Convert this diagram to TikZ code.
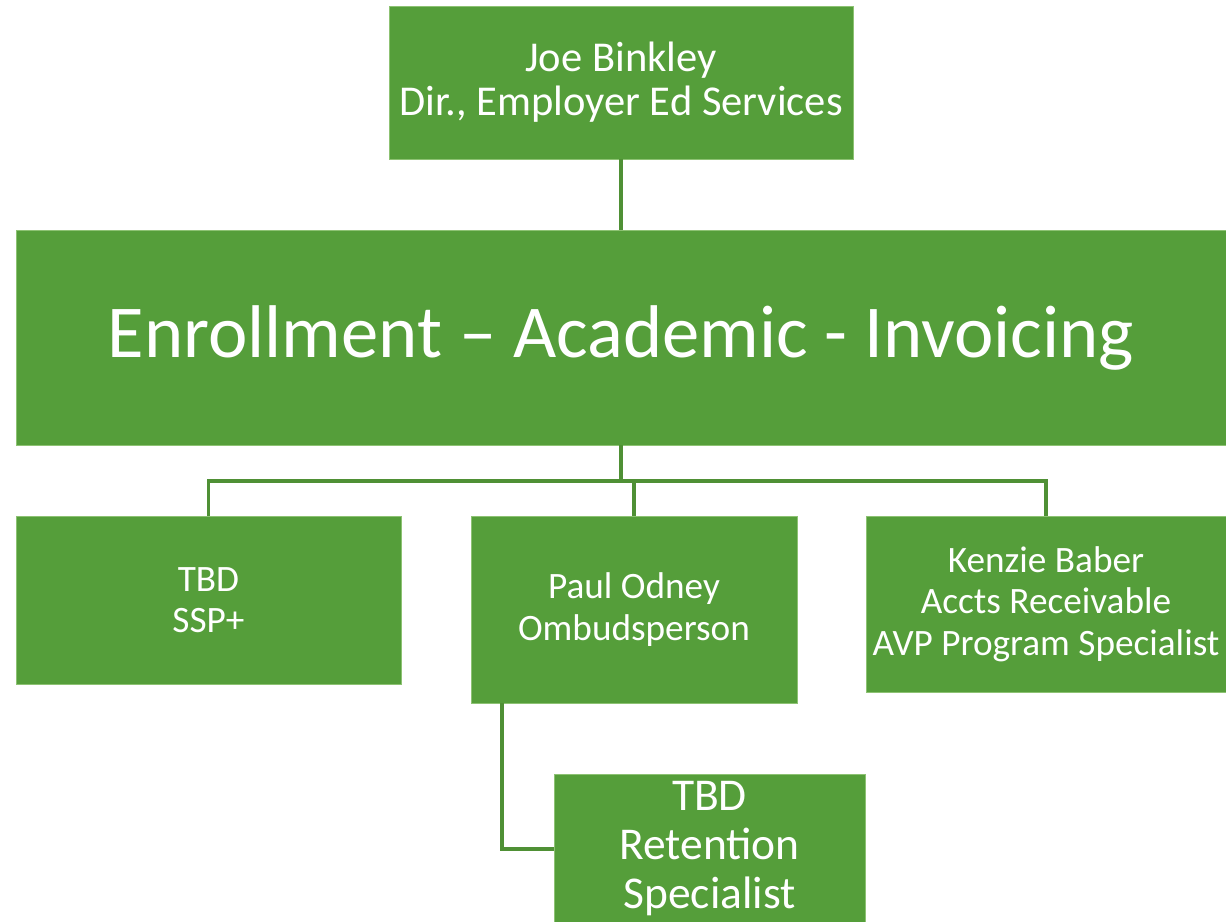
\documentclass[tikz,border=0pt]{standalone}
\usepackage{fontspec}
\setmainfont{Carlito}
\usepackage{tikz}
\usetikzlibrary{positioning, calc}
\definecolor{orggreen}{HTML}{559E3A}
\definecolor{linegreen}{HTML}{4F9035}
\definecolor{edgegreen}{HTML}{8DC273}
\tikzset{
    greenbox/.style={rectangle, draw=edgegreen, line width=0.5pt, fill=orggreen, text=white, align=center, inner sep=0pt},
    link/.style={draw=linegreen, line width=2pt}
}
\begin{document}
\begin{tikzpicture}[x=0.02cm, y=-0.02cm]
    \useasboundingbox (0,0) rectangle (1226,922);
    \node[greenbox, minimum width=464*0.02cm, minimum height=153*0.02cm, font=\fontsize{24.2}{25}\selectfont] (joe) at (621,82.5) {Joe Binkley\\Dir., Employer Ed Services};
    \node[greenbox, minimum width=1210*0.02cm, minimum height=215*0.02cm, font=\fontsize{42.5}{51}\selectfont] (eai) at (621,337.5) {Enrollment -- Academic - Invoicing};
    \node[greenbox, minimum width=385*0.02cm, minimum height=168*0.02cm, font=\fontsize{21.2}{23.6}\selectfont] (tbdssp) at (208.5,600) {TBD\\SSP+};
    \node[greenbox, minimum width=326*0.02cm, minimum height=187*0.02cm, font=\fontsize{21.2}{23.6}\selectfont] (paul) at (634,609.5) {Paul Odney\\Ombudsperson};
    \node[greenbox, minimum width=360*0.02cm, minimum height=176*0.02cm, font=\fontsize{21.2}{23.6}\selectfont] (kenzie) at (1046,604) {Kenzie Baber\\Accts Receivable\\AVP Program Specialist};
    \node[greenbox, minimum width=311*0.02cm, minimum height=150*0.02cm, font=\fontsize{25.9}{27.9}\selectfont] (retention) at (709.5,849) {TBD\\Retention\\Specialist};
    % reporting lines
    \draw[link] (joe.south) -- (eai.north);
    \coordinate (bar) at (621,481);
    \draw[link] (eai.south) -- (bar);
    \draw[link] (tbdssp.north) |- (bar) -| (kenzie.north);
    \draw[link] (paul.north) -- (paul.north |- bar);
    \draw[link] ([xshift=-2.64cm]paul.south) |- (retention.west);
\end{tikzpicture}
\end{document}
